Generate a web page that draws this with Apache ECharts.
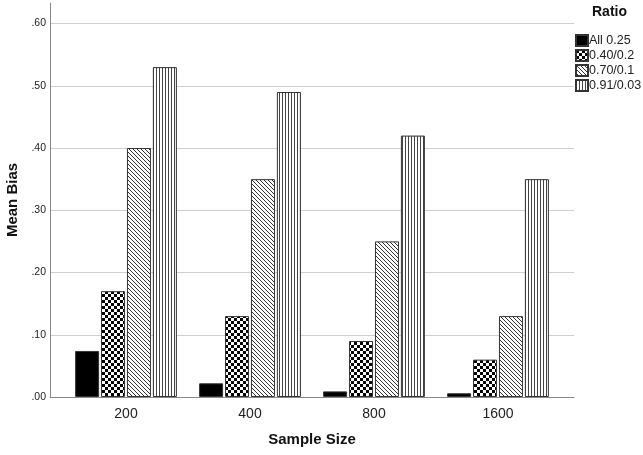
<!DOCTYPE html>
<html>
<head>
<meta charset="utf-8">
<script src="https://cdn.jsdelivr.net/npm/echarts@6/dist/echarts.min.js"></script>
<style>
  html, body { margin: 0; padding: 0; background: #fff; }
  #main { width: 643px; height: 455px; }
</style>
</head>
<body>
<div id="main"></div>
<script>
// data
var sampleSizes = ['200', '400', '800', '1600'];
var ratioNames = ['All 0.25', '0.40/0.2', '0.70/0.1', '0.91/0.03'];
var biasAll = [0.074, 0.022, 0.009, 0.006];
var bias40 = [0.17, 0.13, 0.09, 0.06];
var bias70 = [0.40, 0.35, 0.25, 0.13];
var bias91 = [0.53, 0.49, 0.42, 0.35];

// fill patterns like SPSS
function makePattern(w, h, draw) {
    var c = document.createElement('canvas');
    c.width = w; c.height = h;
    var ctx = c.getContext('2d');
    ctx.fillStyle = '#fff';
    ctx.fillRect(0, 0, w, h);
    draw(ctx);
    return { image: c, repeat: 'repeat' };
}
var checker = makePattern(6, 6, function (ctx) {
    ctx.fillStyle = '#000';
    ctx.fillRect(0, 0, 3, 3);
    ctx.fillRect(3, 3, 3, 3);
});
var diag = makePattern(4, 4, function (ctx) {
    ctx.fillStyle = '#333';
    for (var i = 0; i < 4; i++) ctx.fillRect(i, i, 1, 1);
});
var vert = makePattern(3, 3, function (ctx) {
    ctx.fillStyle = '#444';
    ctx.fillRect(0, 0, 1, 3);
});

var chart = echarts.init(document.getElementById('main'));

function barSeries(name, data, fill) {
    return {
        name: name,
        type: 'bar',
        xAxisIndex: 1,
        yAxisIndex: 1,
        data: data,
        barWidth: 24,
        barGap: '8%',
        itemStyle: { color: fill, borderColor: '#333', borderWidth: 1 },
        emphasis: { disabled: true }
    };
}

var option = {
    animation: false,
    backgroundColor: '#fff',
    textStyle: { fontFamily: 'Liberation Sans, Arial, sans-serif' },
    title: {
        text: 'Ratio',
        left: 592,
        top: 5,
        padding: 0,
        textStyle: { fontSize: 14, fontWeight: 'bold', color: '#111' }
    },
    legend: {
        orient: 'vertical',
        left: 575,
        top: 34,
        padding: 0,
        itemWidth: 12,
        itemHeight: 11,
        itemGap: 2,
        icon: 'rect',
        textStyle: { fontSize: 12.5, color: '#222', padding: [0, 0, 0, -4] },
        data: ratioNames
    },
    grid: [
        { left: 50, right: 69, top: 3, bottom: 58, outerBoundsMode: 'none' },
        { left: 64, right: 83, top: 3, bottom: 58, outerBoundsMode: 'none' }
    ],
    xAxis: [
        {
            type: 'value',
            gridIndex: 0,
            min: 0, max: 1,
            axisLine: { show: true, lineStyle: { color: '#888' } },
            axisTick: { show: false },
            axisLabel: { show: false },
            splitLine: { show: false },
            name: 'Sample Size',
            nameLocation: 'middle',
            nameGap: 35,
            nameTextStyle: { fontSize: 15, fontWeight: 'bold', color: '#111' }
        },
        {
            type: 'category',
            gridIndex: 1,
            data: sampleSizes,
            axisLine: { show: false },
            axisTick: { show: false },
            axisLabel: { fontSize: 14, color: '#222', margin: 10 }
        }
    ],
    yAxis: [
        {
            type: 'value',
            gridIndex: 0,
            min: 0, max: 0.633,
            interval: 0.1,
            axisLine: { show: true, lineStyle: { color: '#888' } },
            axisTick: { show: false },
            axisLabel: {
                fontSize: 10.5, color: '#222', margin: 4, showMaxLabel: false,
                formatter: function (v) { return v > 0.61 ? '' : v.toFixed(2).replace(/^0/, ''); }
            },
            splitLine: { show: true, showMaxLine: false, lineStyle: { color: '#cfcfcf', width: 1 } },
            name: 'Mean Bias',
            nameLocation: 'middle',
            nameGap: 28,
            nameTextStyle: { fontSize: 15, fontWeight: 'bold', color: '#111' }
        },
        {
            type: 'value',
            gridIndex: 1,
            min: 0, max: 0.633,
            show: false
        }
    ],
    series: [
        barSeries(ratioNames[0], biasAll, '#000'),
        barSeries(ratioNames[1], bias40, checker),
        barSeries(ratioNames[2], bias70, diag),
        barSeries(ratioNames[3], bias91, vert)
    ]
};
chart.setOption(option);
</script>
</body>
</html>
